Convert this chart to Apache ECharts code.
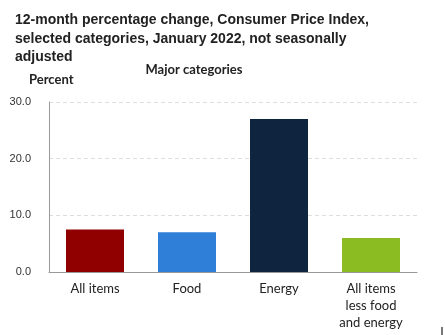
<!DOCTYPE html>
<html><head><meta charset="utf-8">
<script src="https://cdn.jsdelivr.net/npm/echarts@6/dist/echarts.min.js"></script>
<style>html,body{margin:0;padding:0;background:#fff}#c{width:445px;height:335px}</style>
</head><body><div id="c"></div>
<script>
const categories = ['All items', 'Food', 'Energy', 'All items\nless food\nand energy'];
const values = [7.5, 7.0, 27.0, 6.0];
const colors = ['#900000', '#2F7ED8', '#0F243E', '#8BBC21'];
const yTicks = [0, 10, 20, 30];

const chart = echarts.init(document.getElementById('c'));
chart.setOption({
  animation: false,
  title: [
    { text: '12-month percentage change, Consumer Price Index,\nselected categories, January 2022, not seasonally\nadjusted',
      left: 10, top: 6,
      textStyle: { fontFamily: 'Liberation Sans', fontWeight: 'bold', fontSize: 14, lineHeight: 18.5, color: '#222' } },
    { text: 'Major categories', left: 189, top: 58, textAlign: 'center',
      textStyle: { fontFamily: 'Lato', fontWeight: 'bold', fontSize: 13, color: '#222' } },
    { text: 'Percent', left: 24, top: 68,
      textStyle: { fontFamily: 'Lato', fontWeight: 'bold', fontSize: 13, color: '#222' } }
  ],
  grid: { left: 49, right: 28, top: 102, bottom: 63, containLabel: false },
  xAxis: {
    type: 'category', data: categories,
    axisLine: { lineStyle: { color: '#999', width: 1 } },
    axisTick: { show: false },
    axisLabel: { fontFamily: 'Lato', fontSize: 13, color: '#222', lineHeight: 17, margin: 8, interval: 0 }
  },
  yAxis: {
    type: 'value', min: 0, max: 30, interval: 10,
    axisLine: { show: true, lineStyle: { color: '#999', width: 1 } },
    axisTick: { show: false },
    axisLabel: { fontFamily: 'Liberation Sans', fontSize: 11, color: '#333', margin: 18,
      formatter: v => yTicks.includes(v) ? v.toFixed(1) : '' },
    splitLine: { lineStyle: { color: '#ddd', type: [4, 3] } }
  },
  graphic: [{ type: 'rect', left: 441, top: 327, shape: { width: 2, height: 8 }, style: { fill: '#777' } }],
  series: [{
    type: 'bar', barWidth: 58,
    data: values.map((v, i) => ({ value: v, itemStyle: { color: colors[i] } }))
  }]
});
</script></body></html>
